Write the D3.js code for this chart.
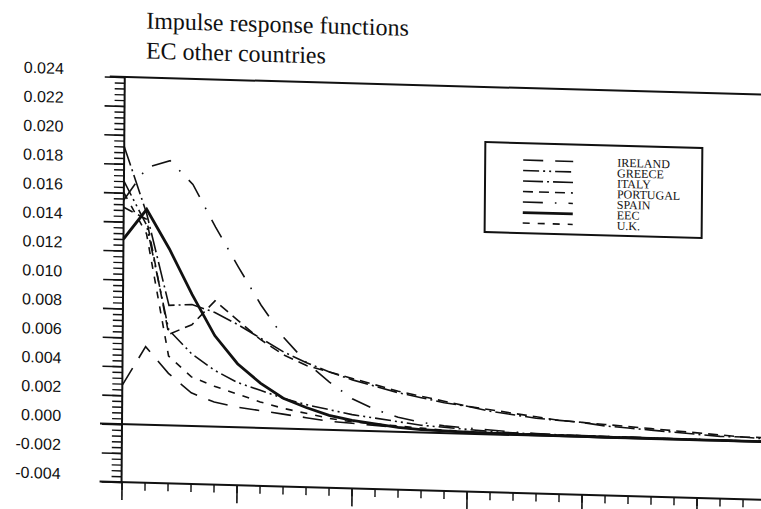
<!DOCTYPE html>
<html>
<head>
<meta charset="utf-8">
<script src="https://cdn.jsdelivr.net/npm/d3@7"></script>
<style>
  html, body { margin: 0; padding: 0; background: #fff; }
  svg { display: block; }
</style>
</head>
<body>
<svg id="chart" width="761" height="509"></svg>
<script>
// Horizon (periods after the shock)
const periods = d3.range(0, 29);

// Impulse responses by country
const ireland  = [0.0027, 0.0054, 0.0036, 0.0023, 0.0017, 0.0014, 0.0012, 0.0010, 0.0008, 0.0006,
                  0.0005, 0.0004, 0.0003, 0.0002, 0.00015, 0.0001, 0.0001, 0.0001, 0.00008, 0.00008,
                  0.00006, 0.00006, 0.00005, 0.00005, 0.00004, 0.00004, 0.00003, 0.00003, 0.00003];
const greece   = [0.0168, 0.0138, 0.0066, 0.0050, 0.0039, 0.0031, 0.0026, 0.0021, 0.0017, 0.0014,
                  0.0011, 0.0009, 0.0007, 0.0005, 0.0004, 0.0003, 0.0002, 0.00015, 0.0001, 0.0001,
                  0.00008, 0.00007, 0.00006, 0.00005, 0.00004, 0.00004, 0.00003, 0.00003, 0.00003];
const italy    = [0.0192, 0.0146, 0.0083, 0.0084, 0.0079, 0.0071, 0.0062, 0.0053, 0.0046, 0.0040,
                  0.0035, 0.0031, 0.0027, 0.0024, 0.0021, 0.0019, 0.0016, 0.0014, 0.0012, 0.0011,
                  0.0010, 0.0008, 0.0007, 0.0006, 0.0005, 0.0004, 0.0003, 0.0003, 0.0002];
const portugal = [0.0150, 0.0142, 0.0063, 0.0070, 0.0087, 0.0074, 0.0061, 0.0051, 0.0044, 0.0040,
                  0.0036, 0.0032, 0.0028, 0.0025, 0.0022, 0.0019, 0.0017, 0.0015, 0.0013, 0.0011,
                  0.0010, 0.0009, 0.0008, 0.0007, 0.0006, 0.0005, 0.0004, 0.0003, 0.0003];
const spain    = [0.0155, 0.0178, 0.0183, 0.0167, 0.0138, 0.0111, 0.0085, 0.0063, 0.0046, 0.0033,
                  0.0022, 0.0015, 0.0010, 0.0007, 0.0005, 0.0004, 0.0003, 0.0002, 0.00015, 0.0001,
                  0.0001, 0.00008, 0.00007, 0.00006, 0.00005, 0.00005, 0.00004, 0.00004, 0.00003];
const eec      = [0.0128, 0.0149, 0.0122, 0.0091, 0.0063, 0.0044, 0.0031, 0.0021, 0.0015, 0.0010,
                  0.0007, 0.0005, 0.0003, 0.0002, 0.00015, 0.0001, 0.00008, 0.00006, 0.00005, 0.00004,
                  0.00003, 0.00002, 0.00002, 0.00002, 0.00002, 0.00002, 0.00002, 0.00002, 0.00002];
const uk       = [0.0160, 0.0132, 0.0048, 0.0034, 0.0028, 0.0023, 0.0018, 0.0014, 0.0011, 0.0008,
                  0.0006, 0.0005, 0.0004, 0.0003, 0.0002, 0.00015, 0.0001, 0.0001, 0.00008, 0.00007,
                  0.00006, 0.00005, 0.00005, 0.00004, 0.00004, 0.00003, 0.00003, 0.00003, 0.00003];

// Legend entries, top to bottom
const seriesNames = ["IRELAND", "GREECE", "ITALY", "PORTUGAL", "SPAIN", "EEC", "U.K."];
const seriesData  = [ireland, greece, italy, portugal, spain, eec, uk];

// Y axis labelled values
const yTickValues = [0.024, 0.022, 0.020, 0.018, 0.016, 0.014, 0.012, 0.010,
                     0.008, 0.006, 0.004, 0.002, 0.000, -0.002, -0.004];

const titleLines = ["Impulse response functions", "EC other countries"];

// ---- styling ----
const dashStyles = {
  "IRELAND":  "20,12",
  "GREECE":   "16,4,2,4,2,4",
  "ITALY":    "20,4,2,4",
  "PORTUGAL": "10,6",
  "SPAIN":    "20,12,1.6,12",
  "EEC":      null,
  "U.K.":     "7,8"
};
const widths = { "EEC": 2.8 };
const thin = 1.6;

const svg = d3.select("#chart");
const ink = "#111";

// the printed page sits slightly askew
const skewY = 0.0277, skewX = -0.008, pivotX = 122, pivotY = 425;
const root = svg.append("g")
  .attr("transform", `matrix(1,${skewY},${skewX},1,${-skewX * pivotY},${-skewY * pivotX})`);

const x = d3.scaleLinear().domain([0, 28]).range([122, 766]);
const y = d3.scaleLinear().domain([-0.004, 0.024]).range([482, 77]);

// title
root.append("g")
  .selectAll("text").data(titleLines).join("text")
  .attr("x", 143).attr("y", (d, i) => 28 + i * 30)
  .attr("font-family", "Liberation Serif, Times New Roman, serif")
  .attr("font-size", 24).attr("fill", ink)
  .text(d => d);

// y axis: minor ticks
const minorTicks = d3.range(-0.004, 0.02401, 0.0004).map(v => +v.toFixed(4));
root.append("g")
  .attr("transform", `translate(${x(0)},0)`)
  .call(d3.axisLeft(y).tickValues(minorTicks).tickSize(10).tickFormat(""))
  .call(g => g.select(".domain").remove())
  .call(g => g.selectAll("line").attr("stroke", ink).attr("stroke-width", 1.4));

// y axis: labelled ticks
const fmt = v => (v < 0 ? "-" : "") + Math.abs(v).toFixed(3);
root.append("g")
  .attr("transform", `translate(${x(0)},0)`)
  .call(d3.axisLeft(y).tickValues(yTickValues).tickSize(20).tickPadding(41).tickFormat(fmt))
  .call(g => g.select(".domain").attr("stroke", ink).attr("stroke-width", 2).attr("d", `M0,${y(0.024)}V${y(-0.004)}`))
  .call(g => g.selectAll("line").attr("stroke", ink).attr("stroke-width", 1.6))
  .call(g => g.selectAll("text")
    .attr("font-family", "Liberation Sans, Arial, sans-serif")
    .attr("font-size", 16).attr("fill", ink).attr("dy", "-0.12em"));

// x axis: ticks every period, longer every fifth
root.append("g")
  .attr("transform", `translate(0,${y(-0.004)})`)
  .call(d3.axisBottom(x).tickValues(periods).tickSize(8).tickFormat(""))
  .call(g => g.select(".domain").remove())
  .call(g => g.selectAll("line").attr("stroke", ink).attr("stroke-width", 1.4));
root.append("g")
  .attr("transform", `translate(0,${y(-0.004)})`)
  .call(d3.axisBottom(x).tickValues(periods.filter(p => p % 5 === 0)).tickSize(18).tickFormat(""))
  .call(g => g.select(".domain").remove())
  .call(g => g.selectAll("line").attr("stroke", ink).attr("stroke-width", 1.6));

// frame lines: top, zero and bottom
const frame = [
  { v: 0.024, x0: 107 },
  { v: 0.000, x0: 100 },
  { v: -0.004, x0: 100 }
];
root.append("g").selectAll("line").data(frame).join("line")
  .attr("x1", d => d.x0).attr("x2", 780)
  .attr("y1", d => y(d.v)).attr("y2", d => y(d.v))
  .attr("stroke", ink).attr("stroke-width", 2);

// response paths
const line = d3.line().x((d, i) => x(periods[i])).y(d => y(d));
root.append("g").selectAll("path").data(seriesNames).join("path")
  .attr("d", (name, i) => line(seriesData[i]))
  .attr("fill", "none")
  .attr("stroke", ink)
  .attr("stroke-width", name => widths[name] || thin)
  .attr("stroke-dasharray", name => dashStyles[name]);

// legend
const legend = root.append("g");
const lgX = 483, lgY = 132, lgW = 217, lgH = 90, rowH = 10.5;
legend.append("rect")
  .attr("x", lgX).attr("y", lgY).attr("width", lgW).attr("height", lgH)
  .attr("fill", "#fff").attr("stroke", ink).attr("stroke-width", 2);
const rows = legend.selectAll("g.row").data(seriesNames).join("g")
  .attr("class", "row")
  .attr("transform", (d, i) => `translate(0,${lgY + 17 + i * rowH})`);
rows.append("line")
  .attr("x1", 521).attr("x2", 571).attr("y1", 0).attr("y2", 0)
  .attr("stroke", ink)
  .attr("stroke-width", d => widths[d] || thin)
  .attr("stroke-dasharray", d => dashStyles[d]);
rows.append("text")
  .attr("x", 615).attr("y", 4)
  .attr("font-family", "Liberation Serif, Times New Roman, serif")
  .attr("font-size", 12).attr("fill", ink)
  .text(d => d);
</script>
</body>
</html>
